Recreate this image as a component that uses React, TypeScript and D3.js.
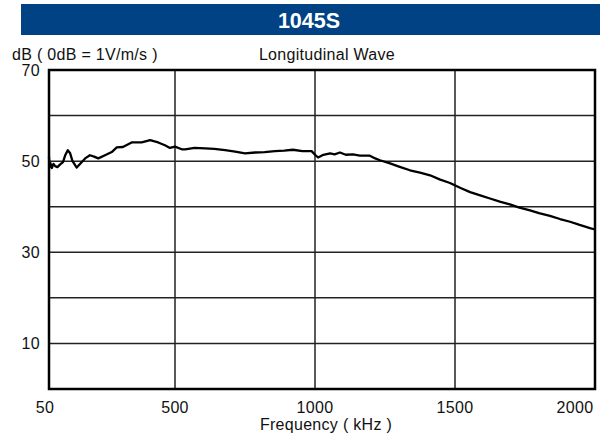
import React, { useRef, useEffect } from 'react';
import * as d3 from 'd3';

const FREQ = [50, 52, 55, 60, 66, 72, 80, 90, 100, 108, 117, 125, 134, 149, 164, 179, 196, 211, 226, 250,
    274, 292, 314, 345, 381, 411, 440, 464, 482, 500, 524, 536, 570, 607, 640, 679, 715, 750, 786, 820,
    857, 890, 921, 955, 988, 1000, 1011, 1030, 1054, 1070, 1089, 1110, 1136, 1160, 1196, 1215, 1232, 1268,
    1300, 1339, 1375, 1411, 1445, 1482, 1520, 1554, 1590, 1625, 1660, 1696, 1730, 1768, 1800, 1839, 1875,
    1911, 1945, 1982, 2000];
const DB = [51.0, 48.7, 49.6, 48.5, 49.4, 48.9, 48.7, 49.3, 49.8, 51.3, 52.4, 51.8, 50.0, 48.6, 49.6, 50.6, 51.3, 51.0, 50.6, 51.3,
    52.0, 53.0, 53.1, 54.1, 54.1, 54.6, 54.1, 53.5, 52.9, 53.2, 52.6, 52.6, 52.9, 52.8, 52.7, 52.4, 52.1, 51.7, 51.9, 52.0,
    52.2, 52.3, 52.5, 52.2, 52.2, 51.4, 50.8, 51.4, 51.7, 51.5, 51.9, 51.4, 51.5, 51.2, 51.2, 50.6, 50.2, 49.5,
    48.8, 48.0, 47.5, 46.9, 46.0, 45.2, 44.1, 43.2, 42.5, 41.8, 41.1, 40.5, 39.8, 39.2, 38.6, 38.0, 37.3,
    36.7, 36.0, 35.3, 35.0];

const X_TICKS = [50, 500, 1000, 1500, 2000];
const Y_GRID = [0, 10, 20, 30, 40, 50, 60, 70];
const Y_LABELS = [10, 30, 50, 70];

const FONT = 'Liberation Sans, Arial, sans-serif';

export default function App() {
    const svgRef = useRef<SVGSVGElement>(null);
    const width = 600, height = 437;
    const margin = { top: 70, right: 5, bottom: 48, left: 49 };

    useEffect(() => {
        const svg = d3.select(svgRef.current);
        svg.selectAll('*').remove();

        const x = d3.scaleLinear().domain([50, 2000]).range([margin.left, width - margin.right]);
        const y = d3.scaleLinear().domain([0, 70]).range([height - margin.bottom, margin.top]);

        // header bar
        svg.append('rect')
            .attr('x', 21).attr('y', 4).attr('width', width - 21).attr('height', 31)
            .attr('fill', '#004283');
        svg.append('text')
            .attr('x', 309).attr('y', 27.5)
            .attr('text-anchor', 'middle')
            .attr('fill', 'white')
            .attr('font-size', 21.5).attr('font-weight', 'bold')
            .attr('font-family', FONT)
            .text('1045S');

        const label = (sel: any) => sel
            .attr('font-size', 16).attr('letter-spacing', 0.3)
            .attr('font-family', FONT).attr('fill', '#111');

        svg.append('text')
            .attr('x', 12).attr('y', 60)
            .call(label)
            .text('dB ( 0dB = 1V/m/s )');
        svg.append('text')
            .attr('x', 327).attr('y', 60)
            .attr('text-anchor', 'middle')
            .call(label)
            .text('Longitudinal Wave');

        // gridlines
        svg.append('g')
            .selectAll('line')
            .data(Y_GRID.slice(1, -1))
            .join('line')
            .attr('x1', margin.left).attr('x2', width - margin.right)
            .attr('y1', d => y(d)).attr('y2', d => y(d))
            .attr('stroke', '#222').attr('stroke-width', 1.5);
        svg.append('g')
            .selectAll('line')
            .data(X_TICKS.slice(1, -1))
            .join('line')
            .attr('x1', d => x(d)).attr('x2', d => x(d))
            .attr('y1', margin.top).attr('y2', height - margin.bottom)
            .attr('stroke', '#222').attr('stroke-width', 1.5);

        // curve
        const pts = FREQ.map((f, i) => [f, DB[i]] as [number, number]);
        svg.append('path')
            .datum(pts)
            .attr('fill', 'none')
            .attr('stroke', 'black')
            .attr('stroke-width', 2.3)
            .attr('stroke-linejoin', 'round')
            .attr('d', d3.line<[number, number]>().x(d => x(d[0])).y(d => y(d[1])));

        // frame
        svg.append('rect')
            .attr('x', margin.left).attr('y', margin.top)
            .attr('width', width - margin.left - margin.right)
            .attr('height', height - margin.top - margin.bottom)
            .attr('fill', 'none').attr('stroke', 'black').attr('stroke-width', 2.5);

        // y labels
        svg.append('g')
            .selectAll('text')
            .data(Y_LABELS)
            .join('text')
            .attr('x', 40).attr('y', d => y(d))
            .attr('dy', '0.35em')
            .attr('text-anchor', 'end')
            .call(label)
            .text(d => d);

        // x labels
        svg.append('g')
            .selectAll('text')
            .data(X_TICKS)
            .join('text')
            .attr('x', (d, i) => i === 0 ? x(d) - 4 : i === X_TICKS.length - 1 ? x(d) - 20 : x(d))
            .attr('y', 413)
            .attr('text-anchor', 'middle')
            .call(label)
            .text(d => d);

        svg.append('text')
            .attr('x', 326).attr('y', 430)
            .attr('text-anchor', 'middle')
            .call(label)
            .text('Frequency ( kHz )');
    }, []);

    return (
        <svg
            ref={svgRef}
            width={width}
            height={height}
            style={{ position: 'absolute', left: 0, top: 0, background: 'white' }}
        />
    );
}
